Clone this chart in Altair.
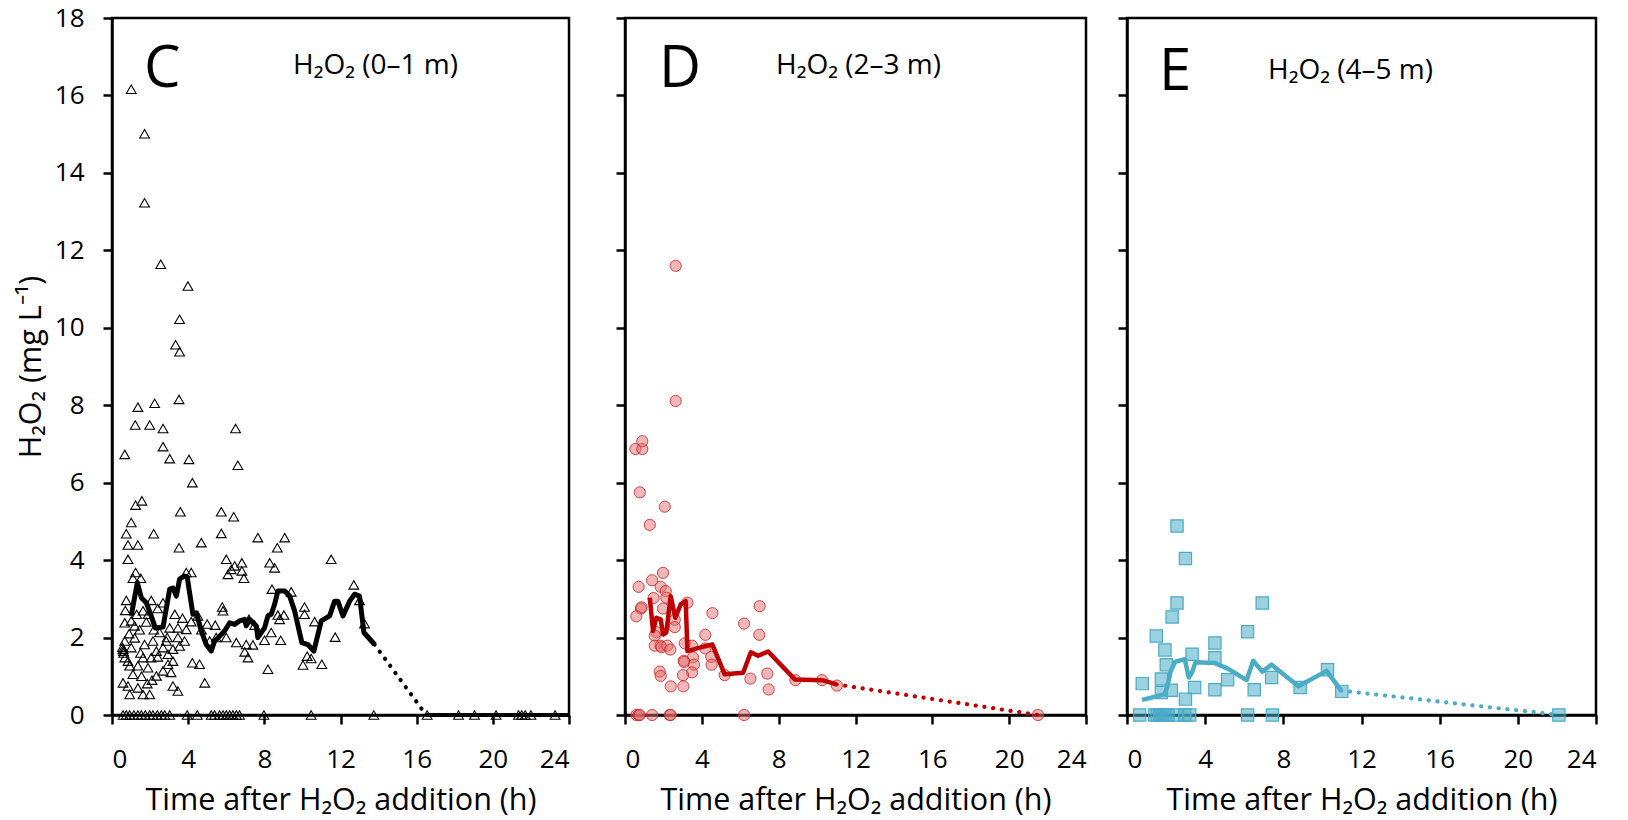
import altair as alt
import pandas as pd

FONT = "Open Sans"
X_TICKS = [0, 4, 8, 12, 16, 20, 24]
Y_TICKS = [0, 2, 4, 6, 8, 10, 12, 14, 16, 18]
X_TITLE = "Time after H₂O₂ addition (h)"
Y_TITLE = "H₂O₂ (mg L⁻¹)"

# ---------------- Panel C (0-1 m) ----------------
c_t = [1.01, 1.71, 1.71, 2.56, 3.99, 3.55, 3.34, 3.55, 3.52, 1.36, 2.24, 1.22, 1.98, 2.68, 6.49,
       0.67, 2.68, 3.03, 4.04, 6.61, 4.22, 1.57, 1.24, 3.59, 5.74, 6.39, 1.01, 0.75, 2.19, 5.74,
       7.66, 9.07, 0.84, 1.36, 3.52, 4.69, 8.68,
       0.84, 6.00, 11.51, 6.44, 6.26, 6.82, 6.82, 6.09, 6.93, 8.28, 8.54, 1.24, 1.10, 1.51, 4.16,
       3.90, 12.70, 8.40, 9.41, 0.75, 2.06, 2.68, 13.00, 10.11, 10.11, 10.64, 5.79, 5.83, 1.63,
       1.01, 0.67, 1.19, 8.71, 9.03, 8.80, 4.16, 4.51, 5.42, 7.19, 7.49, 8.36, 8.86, 8.01, 13.26,
       11.72, 6.53, 7.05, 6.97, 7.14, 7.40, 8.19, 10.25, 10.46, 10.03, 11.02, 6.00, 5.47, 5.13,
       4.22, 4.60, 4.87,
       3.46, 3.81, 3.55, 3.20, 2.94, 3.20, 2.94, 2.68, 2.33, 1.89, 2.06, 2.33, 2.68, 1.63, 1.36,
       0.93, 1.01, 1.19, 0.67, 0.58, 0.67, 0.84, 1.71, 2.15, 2.50, 3.03, 3.46, 3.90, 2.85, 3.20,
       3.46, 0.58, 0.84, 1.36, 1.85, 1.98, 0.93, 1.63,
       0.55, 0.60, 0.62, 1.45, 1.80, 2.20, 2.40, 2.90, 3.10, 1.10, 1.55, 2.10, 0.70, 1.30, 1.90,
       2.40, 3.30, 3.70, 0.90, 1.50, 4.70, 5.00]
c_v = [16.16, 15.01, 13.23, 11.64, 11.08, 10.22, 9.56, 9.38, 8.15, 7.95, 8.05, 7.49, 7.49, 7.40, 7.40,
       6.73, 6.93, 6.62, 6.60, 6.45, 6.00, 5.53, 5.42, 5.25, 5.25, 5.12, 4.97, 4.68, 4.68, 4.69,
       4.58, 4.58, 4.39, 4.39, 4.32, 4.45, 4.32,
       4.02, 4.02, 4.02, 3.85, 3.76, 3.93, 3.72, 3.63, 3.53, 3.93, 3.80, 3.68, 3.53, 3.53, 3.68,
       3.68, 3.36, 3.25, 3.18, 2.96, 2.96, 2.90, 2.96, 2.79, 2.60, 2.41, 2.79, 2.69, 2.69,
       2.43, 2.38, 2.30, 2.58, 2.58, 2.47, 2.41, 2.56, 2.32, 2.47, 2.32, 2.13, 1.93, 1.93, 2.36,
       2.01, 1.87, 1.82, 1.63, 1.48, 1.81, 1.18, 1.52, 1.46, 1.29, 1.31, 2.00, 2.00, 1.91,
       1.35, 1.31, 0.83,
       2.00, 1.91, 1.78, 1.70, 1.57, 1.39, 1.31, 1.14, 1.01, 1.22, 1.48, 1.65, 1.74, 1.48, 1.27,
       1.27, 1.74, 1.99, 1.91, 1.70, 1.48, 1.39, 1.82, 1.91, 2.13, 2.25, 2.25, 2.21, 1.91, 0.75,
       0.62, 0.83, 0.75, 0.70, 0.81, 0.53, 0.53, 0.53,
       1.75, 1.65, 1.60, 2.20, 2.40, 2.20, 1.50, 2.00, 1.10, 1.05, 1.00, 0.90, 2.70, 2.60, 2.60,
       2.75, 2.60, 2.50, 2.10, 1.60, 2.20, 2.35]
# readings below detection (plotted at 0)
c_t_zero = [0.58, 0.75, 0.93, 1.15, 1.36, 1.54, 1.75, 1.98, 2.15, 2.38, 2.59, 2.77, 3.03, 3.95, 4.48,
            5.21, 5.39, 5.65, 5.83, 6.00, 6.18, 6.35, 6.53, 6.70, 7.98, 10.46, 13.75, 16.55, 18.20,
            19.04, 20.17, 21.35, 21.52, 21.70, 22.00, 23.27]
c_line_t = [1.01, 1.33, 1.54, 1.80, 2.06, 2.27, 2.68, 3.03, 3.20, 3.38, 3.55, 3.81, 3.95, 4.25, 4.43,
            4.69, 4.95, 5.21, 5.39, 5.74, 5.91, 6.18, 6.44, 6.70, 6.97, 7.05, 7.23, 7.58, 7.66, 8.01,
            8.19, 8.36, 8.54, 8.71, 9.07, 9.33, 9.59, 9.97, 10.29, 10.60, 10.99, 11.43, 11.69, 11.86,
            12.13, 12.48, 12.74, 13.00, 13.23, 13.79]
c_line_v = [2.56, 3.42, 3.03, 2.90, 2.56, 2.25, 2.27, 3.25, 3.28, 3.07, 3.51, 3.59, 3.56, 2.60, 2.64,
            2.17, 1.82, 1.65, 1.91, 2.08, 2.17, 2.38, 2.34, 2.43, 2.47, 2.30, 2.47, 2.30, 2.00, 2.25,
            2.56, 2.60, 2.86, 3.20, 3.20, 3.07, 2.69, 1.87, 1.82, 1.65, 2.43, 2.56, 2.94, 2.94,
            2.56, 2.94, 3.12, 3.07, 2.13, 1.82]
c_dot_t = [13.79, 16.5]
c_dot_v = [1.82, 0.0]
c_zero_t = [16.5, 24.0]
c_zero_v = [0.0, 0.0]

# ---------------- Panel D (2-3 m) ----------------
d_t = [2.64, 2.64, 0.54, 0.90, 0.90, 0.77, 2.07, 1.29, 1.98, 1.41, 0.71, 1.86, 2.12, 1.49, 2.15,
       0.83, 0.86, 1.98, 3.25, 0.59, 4.55, 7.01, 2.59, 2.59, 6.20, 1.63, 1.55, 4.18, 6.99, 1.55,
       1.85, 1.90, 2.20, 2.36, 3.11, 3.49, 4.18, 3.54, 4.49, 3.06, 3.08, 3.59, 4.51, 3.49, 1.81,
       1.86, 3.02, 5.19, 6.53, 7.41, 2.38, 3.04, 7.48, 8.87, 10.26, 11.03,
       0.59, 0.71, 0.77, 1.41, 2.33, 2.38, 6.20, 21.5]
d_v = [11.6, 8.11, 6.87, 6.87, 7.07, 5.75, 5.38, 4.91, 3.67, 3.48, 3.31, 3.31, 3.20, 3.02, 3.03,
       2.75, 2.78, 2.75, 2.90, 2.55, 2.63, 2.81, 2.46, 2.27, 2.36, 2.14, 2.05, 2.07, 2.07, 1.79,
       1.79, 1.75, 1.79, 1.69, 1.85, 1.79, 1.72, 1.49, 1.50, 1.40, 1.37, 1.30, 1.30, 1.10, 1.12,
       1.01, 1.03, 1.03, 0.94, 1.07, 0.74, 0.74, 0.66, 0.90, 0.90, 0.76,
       0, 0, 0, 0, 0, 0, 0, 0]
d_line_t = [1.29, 1.46, 1.63, 1.86, 1.98, 2.15, 2.38, 2.62, 2.90, 3.16, 3.25, 3.89, 4.55, 5.19, 6.15,
            6.55, 6.93, 7.45, 8.84, 10.26, 11.01]
d_line_v = [3.03, 2.17, 2.51, 2.47, 2.08, 2.13, 3.07, 2.51, 2.86, 2.94, 1.65, 1.74, 1.82, 1.05, 1.09,
            1.62, 1.53, 1.64, 0.92, 0.90, 0.79]
d_dot_t = [11.01, 21.5]
d_dot_v = [0.79, 0.0]

# ---------------- Panel E (4-5 m) ----------------
e_t = [2.56, 2.99, 2.56, 6.92, 2.31, 1.50, 6.17, 1.94, 4.50, 4.50, 3.33, 2.01, 7.40, 1.76, 5.15,
       0.78, 2.27, 3.46, 1.76, 4.50, 6.51, 10.26, 8.86, 10.99, 2.99,
       0.65, 1.42, 1.55, 1.68, 1.79, 1.93, 2.10, 2.53, 2.96, 3.21, 6.17, 7.44, 22.1]
e_v = [4.88, 4.04, 2.89, 2.89, 2.53, 2.04, 2.15, 1.68, 1.86, 1.48, 1.57, 1.30, 0.97, 0.93, 0.91,
       0.81, 0.64, 0.71, 0.58, 0.65, 0.65, 1.17, 0.71, 0.61, 0.41,
       0, 0, 0, 0, 0, 0, 0, 0, 0, 0, 0, 0, 0]
e_line_t = [0.77, 1.25, 1.93, 2.07, 2.24, 2.48, 2.96, 3.16, 3.33, 3.50, 4.50, 5.18, 6.12, 6.46, 6.92,
            7.40, 8.77, 10.22, 10.96]
e_line_v = [0.39, 0.45, 0.54, 0.75, 1.14, 1.38, 1.44, 0.97, 1.10, 1.36, 1.34, 1.19, 0.90, 1.40, 1.12,
            1.30, 0.74, 1.14, 0.63]
e_dot_t = [10.96, 22.1]
e_dot_v = [0.63, 0.0]

LETTERS = ["C", "D", "E"]
SUBTITLES = ["H₂O₂ (0–1 m)", "H₂O₂ (2–3 m)", "H₂O₂ (4–5 m)"]
RED = "#C00000"
BLUE = "#4BACC6"
PLOT_H = 697


def df(t, v):
    return pd.DataFrame({"t": t, "v": v, "i": list(range(len(t)))})


def panel(points, pts, lines, dots, letter, subtitle, width, first, letter_xy, sub_xy):
    x = alt.X("t:Q", scale=alt.Scale(domain=[0, 24], nice=False),
              axis=alt.Axis(values=X_TICKS, title=X_TITLE))
    if first:
        y = alt.Y("v:Q", scale=alt.Scale(domain=[0, 18], nice=False),
                  axis=alt.Axis(values=Y_TICKS, title=Y_TITLE))
    else:
        y = alt.Y("v:Q", scale=alt.Scale(domain=[0, 18], nice=False),
                  axis=alt.Axis(values=Y_TICKS, labels=False, title=None))
    layers = [alt.Chart(pts).mark_point(**points).encode(x=x, y=y)]
    for data, color, w in lines:
        layers.append(alt.Chart(data).mark_line(color=color, strokeWidth=w, strokeJoin="round")
                      .encode(x=x, y=y, order="i:Q"))
    for data, color in dots:
        layers.append(alt.Chart(data).mark_line(color=color, strokeWidth=4.2, strokeCap="round",
                                                strokeDash=[0.1, 8.7])
                      .encode(x=x, y=y, order="i:Q"))
    layers.append(alt.Chart(pd.DataFrame({"lab": [letter]})).mark_text(
        font=FONT, fontSize=58, align="left", baseline="alphabetic", color="black")
        .encode(x=alt.value(letter_xy[0]), y=alt.value(letter_xy[1]), text="lab:N"))
    layers.append(alt.Chart(pd.DataFrame({"lab": [subtitle]})).mark_text(
        font=FONT, fontSize=28, align="left", baseline="alphabetic", color="black")
        .encode(x=alt.value(sub_xy[0]), y=alt.value(sub_xy[1]), text="lab:N"))
    return alt.layer(*layers).properties(width=width, height=PLOT_H)


c_all_t = c_t + c_t_zero
c_all_v = c_v + [0.0 for _ in c_t_zero]

chart_c = panel(
    dict(shape="triangle-up", filled=False, stroke="black", strokeWidth=1.1, size=95, opacity=1),
    df(c_all_t, c_all_v),
    [(df(c_line_t, c_line_v), "black", 5), (df(c_zero_t, c_zero_v), "black", 4)],
    [(df(c_dot_t, c_dot_v), "black")],
    LETTERS[0], SUBTITLES[0], 457, True, (32, 69), (181, 56))

chart_d = panel(
    dict(shape="circle", filled=True, fill="#E07070", fillOpacity=0.5, stroke="#D02828",
         strokeWidth=1, strokeOpacity=0.85, size=125),
    df(d_t, d_v),
    [(df(d_line_t, d_line_v), RED, 4.5)],
    [(df(d_dot_t, d_dot_v), RED)],
    LETTERS[1], SUBTITLES[1], 461, False, (34, 69), (151, 56))

chart_e = panel(
    dict(shape="square", filled=True, fill=BLUE, fillOpacity=0.55, stroke=BLUE,
         strokeWidth=1.2, size=150),
    df(e_t, e_v),
    [(df(e_line_t, e_line_v), BLUE, 4.5)],
    [(df(e_dot_t, e_dot_v), BLUE)],
    LETTERS[2], SUBTITLES[2], 469, False, (32, 72), (141, 61))

inner = alt.hconcat(chart_d, chart_e, spacing=41, bounds="flush")
chart = (
    alt.hconcat(chart_c, inner, spacing=56, bounds="flush")
    .properties(padding={"left": 7, "top": -5, "right": 5, "bottom": 0})
    .configure_view(stroke="black", strokeWidth=2.5)
    .configure_axis(
        labelFont=FONT, titleFont=FONT, labelFontSize=26, titleFontSize=30.5,
        titleFontWeight="normal", labelColor="black", titleColor="black",
        domainColor="black", domainWidth=2.5, tickColor="black", tickWidth=2.5,
        tickSize=9, grid=False)
    .configure_axisX(labelPadding=22, titlePadding=13)
    .configure_axisY(labelPadding=19, titlePadding=8)
)

chart.save("out.html", embed_options={"renderer": "svg", "actions": False})
